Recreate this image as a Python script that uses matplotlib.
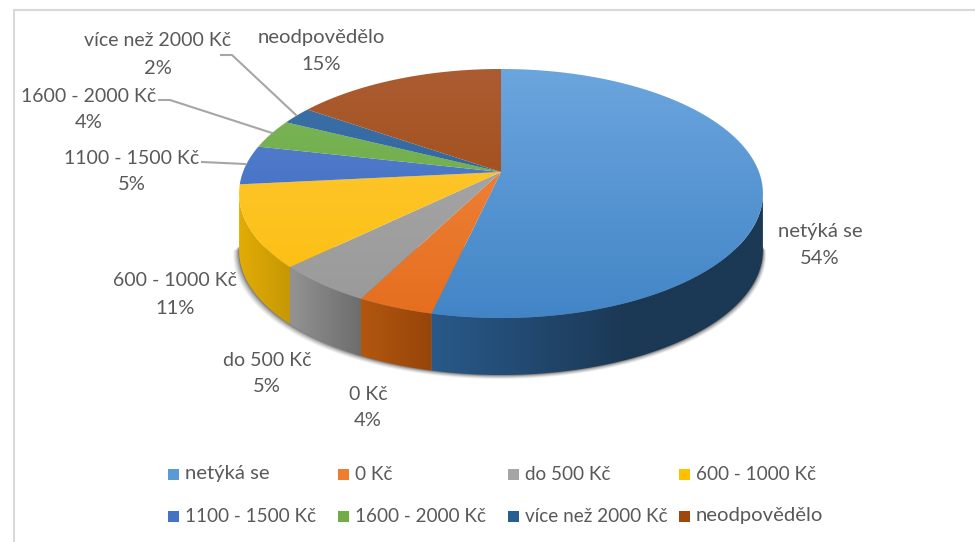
#!/usr/bin/env python3
"""Perspective 3D pie of monthly amounts (survey answers)."""

import numpy as np
import matplotlib
matplotlib.use('Agg')
import matplotlib.pyplot as plt
from matplotlib.patches import Polygon, Rectangle
from matplotlib.colors import to_rgb

plt.rcParams['font.family'] = ['Lato', 'DejaVu Sans']

categories = ['netýká se', '0 Kč', 'do 500 Kč', '600 - 1000 Kč',
              '1100 - 1500 Kč', '1600 - 2000 Kč', 'více než 2000 Kč', 'neodpovědělo']
values = [53.6, 4.0, 5.2, 10.6, 5.1, 3.8, 2.3, 15.4]

# colours: legend, top face (far, near), side wall (left, right)
legend_colors = ['#5B9BD5', '#ED7D31', '#A5A5A5', '#FFC000', '#4472C4', '#70AD47', '#255E91', '#9E480E']
top_far = ['#6BA5DE', '#F08A45', '#ABABAB', '#FFC93A', '#5F86CF', '#7DB55A', '#3F73A8', '#AC5C32']
top_near = ['#4285C6', '#E66E1E', '#999999', '#FBBE0C', '#2F62C0', '#66A83C', '#1E5A96', '#9A4406']
side_left = ['#29598A', '#B35710', '#939393', '#E2AC04', '#2E4F8C', '#4E7A32', '#1A4268', '#6F3210']
side_right = ['#1B3854', '#964509', '#6C6C6C', '#C69805', '#2E4F8C', '#4E7A32', '#1A4268', '#6F3210']

# label placement in pixels: name centre, percent centre
label_pos = [(820, 232, 259), (368, 394, 421), (267, 360, 387), (175, 281, 308),
             (132, 158, 184), (89, 96, 123), (158, 40, 68), (321, 37, 64)]
leaders = [[(221, 55), (232, 55), (296, 115)],
           [(159, 100), (170, 100), (272, 133)],
           [(202, 162), (245, 164)]]

CX, CY = 501, 172
A, B, K = 258, 120.8, 0.1726
DEPTH = 57
TEXT = '#595959'


def rim(theta):
    """Screen position of the pie rim, theta clockwise from the top"""
    u, v = np.sin(theta), -np.cos(theta)
    w = 1 - K * v
    return CX + A * u / w, CY + B * v / w


def name_size(name, with_digits, without_digits):
    # Lato digits run wider than the original font, letters narrower
    return with_digits if any(c.isdigit() for c in name) else without_digits


def gradient_fill(pts, c0, c1, extent, vertical, zorder):
    """Colour ramp from c0 to c1, clipped to the polygon pts"""
    c0, c1 = np.array(to_rgb(c0)), np.array(to_rgb(c1))
    ramp = np.linspace(0, 1, 128)
    ramp = ramp[:, None, None] if vertical else ramp[None, :, None]
    img = c0[None, None, :] + (c1 - c0)[None, None, :] * ramp
    im = ax.imshow(img, extent=extent, aspect='auto', zorder=zorder, interpolation='bilinear')
    poly = Polygon(pts, closed=True, fc='none', ec='none', transform=ax.transData)
    ax.add_patch(poly)
    im.set_clip_path(poly)


fig = plt.figure(figsize=(9.75, 5.42), dpi=100)
ax = fig.add_axes([0, 0, 1, 1])

# frame
ax.plot([14, 14], [542, 10], color='#D9D9D9', lw=1.5, zorder=1)
ax.plot([14, 975], [10, 10], color='#D9D9D9', lw=1.5, zorder=1)

edges = np.radians(np.concatenate([[0], np.cumsum(values)]) * 3.6)

# soft shadow under the wall, a bit stronger on the left
th = np.linspace(np.radians(98), np.radians(262), 240)
x, y = rim(th)
for off, alpha in zip([4.5, 3.5, 2.5, 1.5, 0.7], [0.07, 0.1, 0.14, 0.18, 0.25]):
    sx = CX + (x - CX) * (1 + off / 262) - off * 0.3
    sy = y + DEPTH + off * 0.9
    ax.add_patch(Polygon(np.column_stack([sx, sy]), closed=True,
                         fc='#202020', ec='none', alpha=alpha, zorder=2))

# side wall
for i in range(len(values)):
    th = np.linspace(edges[i], edges[i + 1], 160)
    th = th[-np.cos(th) >= K]
    if len(th) < 2:
        continue
    x, y = rim(th)
    pts = np.vstack([np.column_stack([x, y]), np.column_stack([x, y + DEPTH])[::-1]])
    # the big slice reaches its dark tone early, so the ramp stops short of its right end
    right = x.min() + (x.max() - x.min()) * (0.6 if i == 0 else 1.0)
    gradient_fill(pts, side_left[i], side_right[i],
                  (x.min(), right, y.max() + DEPTH, y.min()), False, 3)
    if i == 0:
        ax.images[-1].set_clip_path(None)
        ax.images[-1].remove()
        # flat dark part first, ramp on top of it
        poly_pts = pts
        c1 = np.array(to_rgb(side_right[0]))
        c0 = np.array(to_rgb(side_left[0]))
        span = np.clip(np.linspace(0, 1, 256) / 0.6, 0, 1)
        img = (c0 + (c1 - c0) * span[:, None])[None, :, :]
        im = ax.imshow(img, extent=(x.min(), x.max(), y.max() + DEPTH, y.min()),
                       aspect='auto', zorder=3, interpolation='bilinear')
        poly = Polygon(poly_pts, closed=True, fc='none', ec='none', transform=ax.transData)
        ax.add_patch(poly)
        im.set_clip_path(poly)

# top face
for i in range(len(values)):
    th = np.linspace(edges[i], edges[i + 1], 160)
    x, y = rim(th)
    pts = np.vstack([[CX, CY], np.column_stack([x, y])])
    gradient_fill(pts, top_far[i], top_near[i], (230, 770, 320, 69), True, 4)

# leader lines
for pts in leaders:
    px, py = zip(*pts)
    ax.plot(px, py, color='#A6A6A6', lw=1.5, zorder=5, solid_joinstyle='round')

# data labels
for name, val, (lx, ly1, ly2) in zip(categories, values, label_pos):
    ax.text(lx, ly1, name, ha='center', va='center', color=TEXT, zorder=6,
            fontsize=name_size(name, 14, 14.6))
    ax.text(lx, ly2, f'{val:.0f}%', ha='center', va='center', fontsize=14.5, color=TEXT, zorder=6)

# legend
col_x = [168, 338, 508, 679]
row_y = [474, 516]
for i, (name, col) in enumerate(zip(categories, legend_colors)):
    lx, ly = col_x[i % 4], row_y[i // 4]
    ax.add_patch(Rectangle((lx, ly - 5.5), 11, 11, fc=col, ec='none', zorder=6))
    ax.text(lx + 17, ly, name, ha='left', va='center', color=TEXT, zorder=6,
            fontsize=name_size(name, 13.6, 14.6))

ax.set_xlim(0, 975)
ax.set_ylim(542, 0)
ax.axis('off')

fig.savefig('out.png', dpi=100)
